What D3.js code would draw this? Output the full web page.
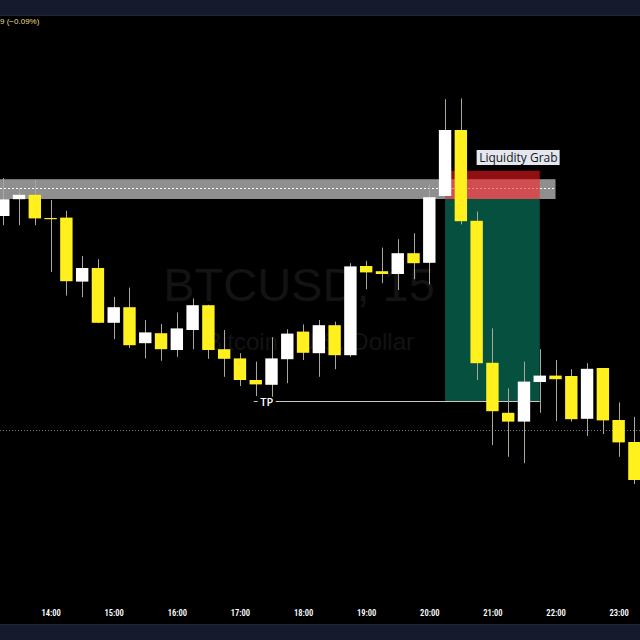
<!DOCTYPE html>
<html><head><meta charset="utf-8">
<script src="https://cdn.jsdelivr.net/npm/d3@7"></script>
<style>html,body{margin:0;padding:0;background:#000;} svg{display:block}</style>
</head><body><svg id="c" width="640" height="640"></svg>
<script>
// ---- data ----
const times = ["13:15","13:30","13:45","14:00","14:15","14:30","14:45","15:00","15:15","15:30","15:45","16:00","16:15","16:30","16:45","17:00","17:15","17:30","17:45","18:00","18:15","18:30","18:45","19:00","19:15","19:30","19:45","20:00","20:15","20:30","20:45","21:00","21:15","21:30","21:45","22:00","22:15","22:30","22:45","23:00","23:15"];
const opens  = [26710,26752,26763,26705,26706,26546,26580,26443,26482,26392,26417,26375,26425,26487,26377,26354,26300,26288,26352,26421,26367,26437,26362,26585,26572,26565,26617,26593,26760,26925,26698,26343,26218,26196,26295,26311,26310,26203,26330,26200,26145];
const highs  = [26805,26780,26800,26750,26723,26610,26602,26508,26531,26450,26440,26469,26504,26488,26425,26367,26346,26407,26427,26439,26450,26446,26592,26598,26631,26652,26667,26789,27002,27004,26721,26429,26279,26346,26377,26350,26327,26342,26330,26244,26208];
const lows   = [26687,26687,26687,26570,26511,26507,26442,26402,26380,26354,26348,26358,26377,26353,26308,26285,26260,26258,26292,26350,26308,26327,26358,26527,26542,26525,26552,26539,26760,26689,26300,26137,26108,26092,26218,26197,26196,26160,26165,26108,26040];
const closes = [26752,26763,26704,26704,26547,26580,26443,26482,26387,26419,26377,26429,26487,26375,26353,26300,26289,26354,26416,26368,26437,26362,26584,26569,26565,26617,26592,26757,26925,26697,26342,26222,26196,26296,26311,26302,26202,26328,26199,26144,26050];
const hourTicks = ["14:00","15:00","16:00","17:00","18:00","19:00","20:00","21:00","22:00","23:00"];
const zoneLevels = [26802, 26752.5];   // grey supply zone
const zoneMid = 26779;
const zoneEnd = "22:00";
const tradeStart = "20:15", tradeEnd = "21:45";
const stopLevel = 26823, entryLevel = 26752.5, tpLevel = 26247.5;
const tpStart = "17:15";
const refLevel = 26175;
const labels = {grab: "Liquidity Grab", tp: "TP", wm1: "BTCUSD, 15", wm2: "Bitcoin / U.S. Dollar", change: "9 (−0.09%)"};

// ---- scales ----
const pt = s => { const [h,m] = s.split(":").map(Number); return new Date(2023,0,1,h,m); };
const x = d3.scaleTime().domain([pt("13:00"), pt("23:30")]).range([-12.52, 650.2]);
const y = d3.scaleLinear().domain([25650, 27250]).range([640, 0]);
const bw = 12.4;

const svg = d3.select("#c");
svg.append("rect").attr("width",640).attr("height",640).attr("fill","#000");

// watermark
svg.append("text").attr("x",299).attr("y",301).attr("text-anchor","middle")
  .attr("font-family","Liberation Sans, Arial, sans-serif").attr("font-size",47)
  .attr("fill","#131313").text(labels.wm1);
svg.append("text").attr("x",310).attr("y",350).attr("text-anchor","middle")
  .attr("font-family","Liberation Sans, Arial, sans-serif").attr("font-size",24)
  .attr("fill","#131313").text(labels.wm2);

// reference dotted line
svg.append("line").attr("x1",0).attr("x2",640).attr("y1",Math.round(y(refLevel))+0.5).attr("y2",Math.round(y(refLevel))+0.5)
  .attr("stroke","#7a7a7a").attr("stroke-dasharray","1,2");

// grey zone
svg.append("rect").attr("x",0).attr("y",y(zoneLevels[0])).attr("width",x(pt(zoneEnd)))
  .attr("height",y(zoneLevels[1])-y(zoneLevels[0])).attr("fill","#8f8f8f");
svg.append("line").attr("x1",0).attr("x2",x(pt(zoneEnd))).attr("y1",Math.round(y(zoneMid))+0.5).attr("y2",Math.round(y(zoneMid))+0.5)
  .attr("stroke","#ffffff").attr("stroke-dasharray","2,2");

// trade boxes
const tx0 = x(pt(tradeStart)), tx1 = x(pt(tradeEnd));
svg.append("rect").attr("x",tx0).attr("y",y(entryLevel)).attr("width",tx1-tx0)
  .attr("height",y(tpLevel)-y(entryLevel)).attr("fill","#06503f");
svg.append("rect").attr("x",tx0).attr("y",y(stopLevel)).attr("width",tx1-tx0)
  .attr("height",y(entryLevel)-y(stopLevel)).attr("fill","#ff1a22").attr("fill-opacity",0.56);

// TP line
const tpy = Math.round(y(tpLevel))+0.5;
svg.append("line").attr("x1",x(pt(tpStart))-2).attr("x2",tx1).attr("y1",tpy).attr("y2",tpy)
  .attr("stroke","#c8c8c8").attr("stroke-width",1);
const tpx = x(pt(tpStart))+11;
svg.append("rect").attr("x",tpx-9).attr("y",tpy-7).attr("width",18).attr("height",14).attr("fill","#000");
svg.append("text").attr("x",tpx).attr("y",tpy+4).attr("text-anchor","middle")
  .attr("font-family","Open Sans, sans-serif").attr("font-size",11).attr("font-weight",600)
  .attr("fill","#ffffff").text(labels.tp);

// candles
const data = times.map((t,i)=>({t:pt(t),o:opens[i],h:highs[i],l:lows[i],c:closes[i]}));
const g = svg.append("g");
g.selectAll("line.w").data(data).join("line").attr("class","w")
  .attr("x1",d=>Math.round(x(d.t))+0.5).attr("x2",d=>Math.round(x(d.t))+0.5)
  .attr("y1",d=>y(d.h)).attr("y2",d=>y(d.l)).attr("stroke","#a9a89a").attr("stroke-width",1);
g.selectAll("rect.b").data(data).join("rect").attr("class","b")
  .attr("x",d=>x(d.t)-bw/2).attr("width",bw)
  .attr("y",d=>y(Math.max(d.o,d.c)))
  .attr("height",d=>Math.max(1.2, Math.abs(y(d.o)-y(d.c))))
  .attr("fill",d=>d.c>=d.o?"#ffffff":"#fff01e");

// Liquidity Grab label
const gx = x(pt("20:45"));
svg.append("rect").attr("x",gx).attr("y",150).attr("width",83).attr("height",15).attr("fill","#e4e7ee");
svg.append("text").attr("x",gx+2.5).attr("y",161.8).attr("font-family","Open Sans, sans-serif")
  .attr("font-size",12).attr("fill","#131722").text(labels.grab);

// top / bottom bars
svg.append("rect").attr("x",0).attr("y",0).attr("width",640).attr("height",16).attr("fill","#151b2d");
svg.append("rect").attr("x",0).attr("y",15).attr("width",640).attr("height",1).attr("fill","#1f2638");
svg.append("rect").attr("x",0).attr("y",624).attr("width",640).attr("height",16).attr("fill","#151b2d");
svg.append("rect").attr("x",0).attr("y",624).attr("width",640).attr("height",1).attr("fill","#1f2638");

svg.append("text").attr("x",0).attr("y",24).attr("font-family","Liberation Sans, Arial, sans-serif")
  .attr("font-size",8).attr("fill","#e9dd8c").text(labels.change);

// x axis
const axis = d3.axisBottom(x).tickValues(hourTicks.map(pt)).tickFormat(d3.timeFormat("%H:%M")).tickSize(0).tickPadding(0);
const ag = svg.append("g").attr("transform","translate(0,610)").call(axis);
ag.select(".domain").remove();
ag.selectAll("text").attr("fill","#ffffff").attr("font-size",8.5).attr("font-weight",600)
  .attr("font-family","Liberation Sans Narrow, Roboto Condensed, Roboto, sans-serif").attr("dy","0.32em").attr("y",3);
</script></body></html>
